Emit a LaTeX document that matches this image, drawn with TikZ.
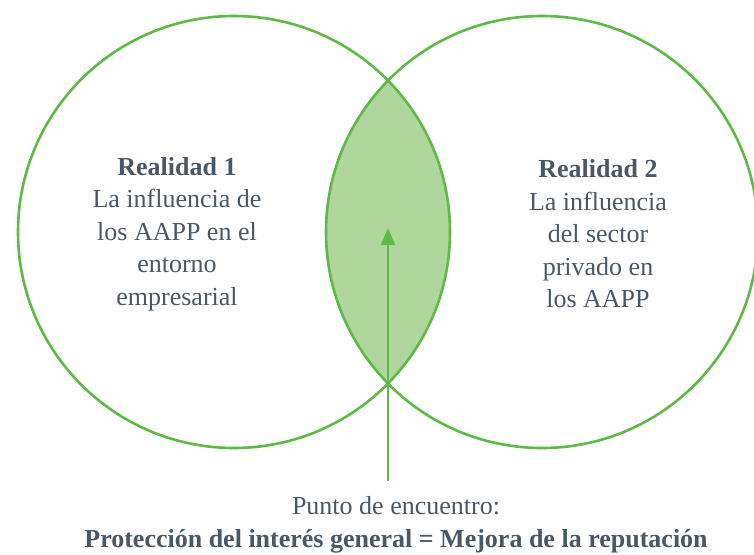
\documentclass[tikz,border=0pt]{standalone}
\usepackage{fontspec}
\setmainfont{Liberation Serif}
\usepackage{tikz}
\usetikzlibrary{arrows.meta, positioning}
\definecolor{venngreen}{RGB}{94, 185, 70}
\definecolor{vennfill}{RGB}{176, 213, 157}
\definecolor{venntext}{RGB}{74, 88, 102}

\begin{document}
\begin{tikzpicture}[x=1pt, y=-1pt,
    venn/.style={circle, draw=venngreen, line width=2.6pt, minimum size=432pt, inner sep=0pt},
    txt/.style={align=center, text=venntext, font=\rmfamily\fontsize{26}{32.5}\selectfont},
    arrow/.style={-{Triangle[length=17pt, width=14pt]}, venngreen, line width=2.5pt}
]
    \useasboundingbox (0,0) rectangle (754,554);

    % Overlap
    \begin{scope}
        \clip (234,232) circle (216);
        \fill[vennfill] (542,232) circle (216);
    \end{scope}

    % Circles
    \node[venn] (izq) at (234,232) {};
    \node[venn] (der) at (542,232) {};

    % Texts
    \node[txt] (realidad1) at (177,234) {\textbf{Realidad 1}\\La influencia de\\los AAPP en el\\entorno\\empresarial};
    \node[txt] (realidad2) at (598,234) {\textbf{Realidad 2}\\La influencia\\del sector\\privado en\\los AAPP};

    \node[txt] (punto) at (396,525) {Punto de encuentro:\\\textbf{Protecci\'on del inter\'es general = Mejora de la reputaci\'on}};

    % Arrow
    \coordinate (base) at (388,481);
    \coordinate (encuentro) at (388,228);
    \draw[arrow] (base) -- (encuentro);
\end{tikzpicture}
\end{document}
